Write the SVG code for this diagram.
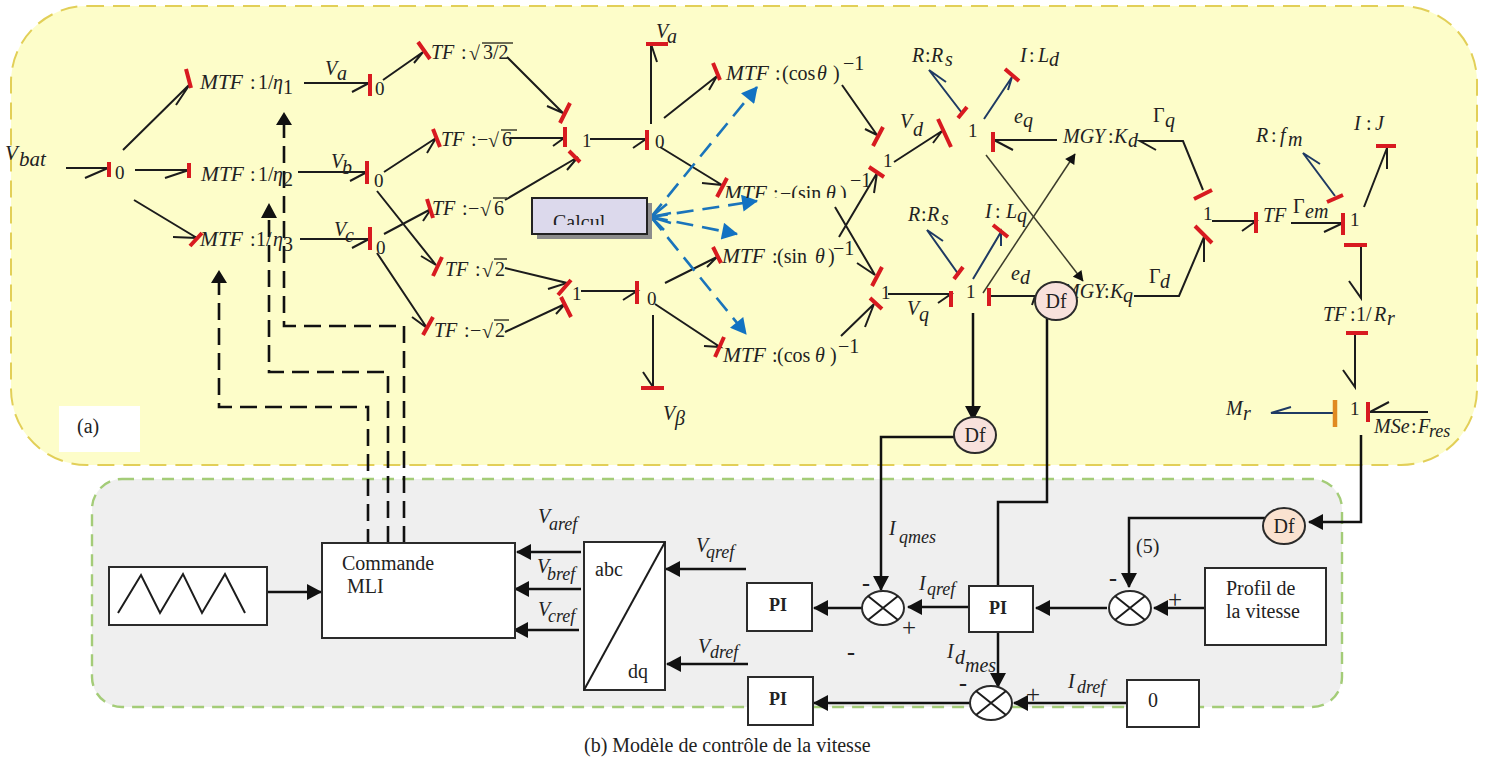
<svg xmlns="http://www.w3.org/2000/svg" width="1486" height="758" viewBox="0 0 1486 758">
<style>
text{font-family:"Liberation Serif","Times New Roman",serif;font-size:20px;fill:#222}
.i{font-style:italic}
.m{font-style:italic;font-size:21.5px}
.g{font-style:italic;font-size:21px}
.u{font-style:italic;font-size:18px}
.sm{font-size:19px}
.b{fill:none;stroke:#1c1c1c;stroke-width:2}
.n{fill:none;stroke:#1f3a63;stroke-width:2}
.r{fill:none;stroke:#d81a20;stroke-width:4}
.o{fill:none;stroke:#e08a22;stroke-width:4.5}
.th{fill:none;stroke:#3c3c2c;stroke-width:1.5}
.k{fill:none;stroke:#111;stroke-width:2.5}
.d{fill:none;stroke:#111;stroke-width:2.6;stroke-dasharray:17 8}
.bd{fill:none;stroke:#1a74bb;stroke-width:2.6;stroke-dasharray:17 9}
.box{fill:#fff;stroke:#2b2b2b;stroke-width:2}
.df{stroke:#2b2b2b;stroke-width:2}
.pi{font-weight:bold;font-size:18px;text-anchor:middle}
.minus{font-size:24px;font-weight:bold}
.plus{font-size:25px}
</style>
<defs>
<marker id="tri" markerUnits="userSpaceOnUse" viewBox="0 0 15 16" markerWidth="15" markerHeight="16" refX="14" refY="8" orient="auto"><path d="M0 0L15 8L0 16Z" fill="#111"/></marker>
<marker id="tris" markerUnits="userSpaceOnUse" viewBox="0 0 15 16" markerWidth="11" markerHeight="11" refX="14" refY="8" orient="auto"><path d="M0 0L15 8L0 16Z" fill="#111"/></marker>
<marker id="btri" markerUnits="userSpaceOnUse" viewBox="0 0 15 16" markerWidth="17" markerHeight="17" refX="14" refY="8" orient="auto"><path d="M0 0L15 8L0 16Z" fill="#1272c2"/></marker>
<clipPath id="clipMtf"><rect x="700" y="170" width="150" height="28"/></clipPath>
<clipPath id="clipCalc"><rect x="540" y="205" width="100" height="20"/></clipPath>
</defs>

<g id="panel-a"><rect x="11" y="6" width="1466" height="459" rx="76" ry="76" fill="#fdfdc9" stroke="#e2cf58" stroke-width="2" stroke-dasharray="17 9"/></g>
<g id="panel-b"><rect x="92" y="479" width="1250" height="228" rx="30" ry="30" fill="#efefef" stroke="#a4cc78" stroke-width="2.4" stroke-dasharray="12 8"/></g>

<g id="connectors">
<path class="b" d="M66 168H108L85 178M135 170H189L165 178M123 150L190 84L176 105M134 200L197 238L173 237"/>
<path class="b" d="M304 83H369L352 92M383 80L423 52L414 63M298 172H367L350 181M384 172L436 138L427 153M300 239H369L352 248M384 234L431 209L423 221M377 191L436 265L421 256M377 253L427 328L412 317"/>
<path class="b" d="M507 57L563 113L547 106M510 138H564L553 146M505 200L578 157L567 170M505 268L567 283L548 289M505 332L565 304L556 314M590 139H646L633 148M581 291H637L623 300"/>
<path class="b" d="M651 124V44L657 62M664 118L717 76L709 90M660 147L722 185L702 183M665 283L717 257L707 267M655 304L720 347L704 346M653 315V387L643 372"/>
<path class="b" d="M842 85L877 135L865 129M835 207L875 275L857 263M839 237L877 173L874 193M841 336L874 304L865 327M894 162L942 131L933 143M888 294H951L938 303"/>
<path class="n" d="M962 113L929 70L946 82M984 119L1012 77L1008 90M959 275L927 230L943 241M973 279L1001 232L1001 246"/>
<path class="th" d="M983 293L1075 154" marker-end="url(#tris)"/>
<path class="th" d="M986 155L1083 281" marker-end="url(#tris)"/>
<path class="b" d="M1057 140H994L1013 150M1203 190L1183 141H1140L1156 150M1134 296H1179L1204 237V262M989 296H1035L1032 305"/>
<path class="b" d="M1212 221H1256L1242 231M1291 223H1343L1324 232M1364 207L1387 148V169M1361 245V298L1349 281M1355 333V387L1343 370M1428 412H1370L1389 402"/>
<path class="n" d="M1335 196L1303 153L1320 164M1333 413H1271L1291 407"/>
<path class="r" d="M109 162V177M189 163V178M186 69L191 88M190 246L202 233M370 74V96M418 42L430 59M367 161V184M433 129L440 147M370 227V250M427 199L433 218M442 257L433 276M433 317L423 335"/>
<path class="r" d="M570 103L560 123M565 127V147M569 151L580 162M571 280L558 295M561 297L571 317M647 130V150M637 281V304M646 44H668M713 63L720 80M727 178L717 197M713 247L721 263M724 337L715 357M641 388H664"/>
<path class="r" d="M883 127L873 146M882 267L872 286M869 167L884 177M870 298L882 309M938 119L951 147M967 107L958 118M1005 69L1019 81M993 132V152M951 291V307M963 267L954 279M993 225L1008 237M989 288V306"/>
<path class="r" d="M1194 199L1212 190M1195 226L1212 243M1256 212V233M1343 213V235M1327 202L1343 195M1376 146H1396M1344 245H1367M1346 333H1368M1368 402V422"/>
<path class="o" d="M1335 400V427"/>

<path class="bd" d="M651 217L757 87" marker-end="url(#btri)"/>
<path class="bd" d="M651 217L757 201" marker-end="url(#btri)"/>
<path class="bd" d="M651 217L737 234" marker-end="url(#btri)"/>
<path class="bd" d="M651 217L746 334" marker-end="url(#btri)"/>
<path d="M651 217L667 204M651 217L671 213M651 217L671 223M651 217L664 230" fill="none" stroke="#1a74bb" stroke-width="2.6"/>

<path class="d" d="M404 543V326H284V125"/>
<path class="d" d="M388 543V372H269V218"/>
<path class="d" d="M368 546V407H219V283"/>
<path d="M284 112l8 13h-16ZM269 203l8 15h-16ZM219 270l8 13h-16Z" fill="#111"/>

<path class="k" d="M973 313V420" marker-end="url(#tri)"/>
<path class="k" d="M955 437H881V590" marker-end="url(#tri)"/>
<path class="k" d="M1047 318V502H998V585"/>
<path class="k" d="M1361 435V522H1309" marker-end="url(#tri)"/>
<path class="k" d="M1265 518H1129V587" marker-end="url(#tri)"/>
<path class="k" d="M969 607H908" marker-end="url(#tri)"/>
<path class="k" d="M863 608H814" marker-end="url(#tri)"/>
<path class="k" d="M1107 608H1036" marker-end="url(#tri)"/>
<path class="k" d="M1205 608H1154" marker-end="url(#tri)"/>
<path class="k" d="M998 632V687" marker-end="url(#tri)"/>
<path class="k" d="M1126 703H1014" marker-end="url(#tri)"/>
<path class="k" d="M971 703H814" marker-end="url(#tri)"/>
<path class="k" d="M746 569H666" marker-end="url(#tri)"/>
<path class="k" d="M748 664H667" marker-end="url(#tri)"/>
<path class="k" d="M581 552H517" marker-end="url(#tri)"/>
<path class="k" d="M581 589H515" marker-end="url(#tri)"/>
<path class="k" d="M579 630H514" marker-end="url(#tri)"/>
<path class="k" d="M265 592H321" marker-end="url(#tri)"/>
</g>

<g id="vbat"><text class="g" x="5" y="160">V</text><text class="g" x="19" y="166">bat</text></g>
<g id="j0-a"><text class="sm" x="115" y="179">0</text></g>
<g id="mtf-1"><text class="m" x="200" y="89">MTF</text><text x="250" y="89">:</text><text x="258" y="89">1/</text><text class="i" x="273" y="89">η</text><text x="283" y="94">1</text></g>
<g id="mtf-2"><text class="m" x="201" y="181">MTF</text><text x="250" y="181">:</text><text x="258" y="181">1/</text><text class="i" x="273" y="181">η</text><text x="283" y="186">2</text></g>
<g id="mtf-3"><text class="m" x="200" y="246">MTF</text><text x="250" y="246">:</text><text x="256" y="246">1/</text><text class="i" x="273" y="246">η</text><text x="283" y="251">3</text></g>

<g id="va-1"><text class="i" x="325" y="75">V</text><text class="i" x="337" y="80">a</text></g>
<g id="vb-1"><text class="i" x="331" y="168">V</text><text class="i" x="342" y="174">b</text></g>
<g id="vc-1"><text class="i" x="334" y="236">V</text><text class="i" x="345" y="242">c</text></g>
<g id="j0-b"><text class="sm" x="375" y="95">0</text></g>
<g id="j0-c"><text class="sm" x="374" y="187">0</text></g>
<g id="j0-d"><text class="sm" x="376" y="254">0</text></g>

<g id="tf-1"><text class="i" x="431" y="59">TF</text><text x="461" y="59">:</text><text x="469" y="60" font-size="23">√</text><text x="483" y="59">3/2</text><path class="th" d="M482 43H513"/></g>
<g id="tf-2"><text class="i" x="441" y="146">TF</text><text x="471" y="146">:</text><text x="477" y="146">−</text><text x="488" y="147" font-size="23">√</text><text x="502" y="146">6</text><path class="th" d="M501 130H517"/></g>
<g id="tf-3"><text class="i" x="432" y="215">TF</text><text x="462" y="215">:</text><text x="468" y="215">−</text><text x="480" y="216" font-size="23">√</text><text x="494" y="215">6</text><path class="th" d="M493 198H507"/></g>
<g id="tf-4"><text class="i" x="445" y="276">TF</text><text x="475" y="276">:</text><text x="482" y="277" font-size="23">√</text><text x="495" y="276">2</text><path class="th" d="M494 259H507"/></g>
<g id="tf-5"><text class="i" x="434" y="337">TF</text><text x="464" y="337">:</text><text x="470" y="337">−</text><text x="482" y="338" font-size="23">√</text><text x="495" y="337">2</text><path class="th" d="M494 320H509"/></g>

<g id="j1-a"><text class="sm" x="582" y="147">1</text></g>
<g id="j1-b"><text class="sm" x="572" y="300">1</text></g>
<g id="j0-e"><text class="sm" x="655" y="148">0</text></g>
<g id="j0-f"><text class="sm" x="647" y="305">0</text></g>
<g id="va-2"><text class="i" x="656" y="38">V</text><text class="i" x="667" y="43">a</text></g>
<g id="vbeta"><text class="i" x="663" y="420">V</text><text class="i" x="675" y="425">β</text></g>

<g id="mtf-cos-1"><text class="m" x="726" y="80">MTF</text><text x="775" y="80">:</text><text x="782" y="80">(cos</text><text class="i" x="817" y="80">θ</text><text x="833" y="80">)</text><text x="843" y="70">−1</text></g>
<g id="mtf-sin-1" clip-path="url(#clipMtf)"><text class="m" x="724" y="200">MTF</text><text x="773" y="200">:</text><text x="780" y="200">−(sin</text><text class="i" x="826" y="200">θ</text><text x="840" y="200">)</text></g>
<g id="mtf-sin-1-exp"><text x="850" y="187">−1</text></g>
<g id="mtf-sin-2"><text class="m" x="722" y="263">MTF</text><text x="772" y="263">:</text><text x="777" y="263">(sin</text><text class="i" x="815" y="263">θ</text><text x="828" y="263">)</text><text x="833" y="255">−1</text></g>
<g id="mtf-cos-2"><text class="m" x="723" y="362">MTF</text><text x="772" y="362">:</text><text x="777" y="362">(cos</text><text class="i" x="815" y="362">θ</text><text x="830" y="362">)</text><text x="838" y="353">−1</text></g>

<g id="calcul"><rect x="537" y="203" width="115" height="36" fill="#8c8c8c"/><rect x="532" y="198" width="115" height="36" fill="#dcd9ec" stroke="#222" stroke-width="2"/><g clip-path="url(#clipCalc)"><text x="553" y="229" font-size="19">Calcul</text></g></g>

<g id="j1-c"><text class="sm" x="883" y="167">1</text></g>
<g id="j1-d"><text class="sm" x="881" y="299">1</text></g>
<g id="j1-e"><text class="sm" x="968" y="137">1</text></g>
<g id="j1-f"><text class="sm" x="966" y="298">1</text></g>
<g id="vd"><text class="i" x="900" y="128">V</text><text class="i" x="913" y="136">d</text></g>
<g id="vq"><text class="i" x="907" y="315">V</text><text class="i" x="919" y="321">q</text></g>
<g id="r-rs-1"><text class="i" x="912" y="62">R</text><text x="925" y="62">:</text><text class="i" x="931" y="62">R</text><text class="i" x="945" y="66">s</text></g>
<g id="r-rs-2"><text class="i" x="908" y="221">R</text><text x="921" y="221">:</text><text class="i" x="927" y="221">R</text><text class="i" x="941" y="225">s</text></g>
<g id="i-ld"><text class="i" x="1020" y="62">I</text><text x="1029" y="62">:</text><text class="i" x="1038" y="62">L</text><text class="i" x="1049" y="66">d</text></g>
<g id="i-lq"><text class="i" x="985" y="218">I</text><text x="995" y="218">:</text><text class="i" x="1006" y="218">L</text><text class="i" x="1017" y="222">q</text></g>
<g id="eq"><text class="i" x="1014" y="123">e</text><text class="i" x="1023" y="127">q</text></g>
<g id="ed"><text class="i" x="1011" y="280">e</text><text class="i" x="1020" y="284">d</text></g>
<g id="mgy-kd"><text class="i" x="1063" y="143">MGY</text><text x="1108" y="143">:</text><text class="i" x="1114" y="143">K</text><text class="i" x="1128" y="147">d</text></g>
<g id="gamma-q"><text x="1153" y="122">Γ</text><text class="i" x="1165" y="127">q</text></g>
<g id="gamma-d"><text x="1149" y="283">Γ</text><text class="i" x="1160" y="288">d</text></g>
<g id="mgy-kq"><text class="i" x="1063" y="298">MGY</text><text x="1104" y="298">:</text><text class="i" x="1110" y="298">K</text><text class="i" x="1123" y="302">q</text></g>
<g id="df-1"><ellipse class="df" cx="1056" cy="301" rx="21" ry="19" fill="#f8e1dc"/><text x="1056" y="308" text-anchor="middle" font-size="20">Df</text></g>
<g id="df-2"><ellipse class="df" cx="975" cy="435" rx="21" ry="18" fill="#f8e1dc"/><text x="975" y="442" text-anchor="middle" font-size="20">Df</text></g>
<g id="df-3"><ellipse class="df" cx="1284" cy="526" rx="21" ry="18" fill="#fae2d0"/><text x="1284" y="533" text-anchor="middle" font-size="20">Df</text></g>

<g id="j1-g"><text class="sm" x="1203" y="220">1</text></g>
<g id="tf-6"><text class="i" x="1263" y="222">TF</text></g>
<g id="gamma-em"><text x="1293" y="213">Γ</text><text class="i" x="1305" y="218" font-size="16">em</text></g>
<g id="j1-h"><text class="sm" x="1350" y="226">1</text></g>
<g id="r-fm"><text class="i" x="1256" y="142">R</text><text x="1271" y="142">:</text><text class="i" x="1280" y="142">f</text><text class="i" x="1288" y="146">m</text></g>
<g id="i-j"><text class="i" x="1354" y="130">I</text><text x="1366" y="130">:</text><text class="i" x="1375" y="130">J</text></g>
<g id="tf-rr"><text class="i" x="1323" y="321">TF</text><text x="1350" y="321">:</text><text x="1356" y="321">1</text><text x="1366" y="321">/</text><text class="i" x="1374" y="321">R</text><text class="i" x="1387" y="325">r</text></g>
<g id="j1-i"><text class="sm" x="1350" y="415">1</text></g>
<g id="mr"><text class="i" x="1226" y="415">M</text><text class="i" x="1243" y="420">r</text></g>
<g id="mse"><text class="i" x="1374" y="433">MSe</text><text x="1411" y="433">:</text><text class="i" x="1418" y="433">F</text><text class="u" x="1429" y="437">res</text></g>

<g id="label-a"><rect x="59" y="406" width="81" height="46" fill="#fff"/><text x="77" y="433" font-size="19">(a)</text></g>

<g id="triangle-gen"><rect class="box" x="109" y="567" width="158" height="58"/><path class="b" d="M118 613L141 575L160 613L183 574L202 613L225 574L245 613"/></g>
<g id="commande"><rect class="box" x="322" y="543" width="193" height="95"/><text x="342" y="570" font-size="20.6">Commande</text><text x="347" y="593" font-size="20.6">MLI</text></g>
<g id="abc-dq"><rect class="box" x="584" y="542" width="81" height="148"/><path class="b" d="M665 542L584 690"/><text x="595" y="576">abc</text><text x="628" y="678">dq</text></g>
<g id="pi-q"><rect class="box" x="747" y="583" width="65" height="48"/><text class="pi" x="778" y="611">PI</text></g>
<g id="pi-d"><rect class="box" x="748" y="677" width="65" height="48"/><text class="pi" x="778" y="705">PI</text></g>
<g id="pi-mid"><rect class="box" x="969" y="586" width="64" height="46"/><text class="pi" x="998" y="614">PI</text></g>
<g id="profil"><rect class="box" x="1205" y="568" width="121" height="77"/><text x="1226" y="595">Profil de</text><text x="1226" y="618" font-size="20.5">la vitesse</text></g>
<g id="zero"><rect class="box" x="1127" y="680" width="72" height="47"/><text x="1148" y="707" font-size="17">0</text></g>

<g id="sum-q"><ellipse class="box" cx="883" cy="608" rx="21" ry="17"/><path class="b" d="M868 596L898 620M898 596L868 620"/></g>
<g id="sum-speed"><ellipse class="box" cx="1130" cy="608" rx="21" ry="17"/><path class="b" d="M1115 596L1145 620M1145 596L1115 620"/></g>
<g id="sum-d"><ellipse class="box" cx="991" cy="703" rx="21" ry="17"/><path class="b" d="M976 691L1006 715M1006 691L976 715"/></g>

<g id="vaef"><text class="i" x="538" y="523">V</text><text class="u" x="549" y="530">aref</text></g>
<g id="vbref"><text class="i" x="537" y="573">V</text><text class="u" x="547" y="580">bref</text></g>
<g id="vcref"><text class="i" x="538" y="616">V</text><text class="u" x="548" y="622">cref</text></g>
<g id="vqref"><text class="i" x="696" y="552">V</text><text class="u" x="706" y="558">qref</text></g>
<g id="vdref"><text class="i" x="698" y="653">V</text><text class="u" x="710" y="658">dref</text></g>
<g id="iqmes"><text class="i" x="889" y="535">I</text><text class="u" x="899" y="543">qmes</text></g>
<g id="iqref"><text class="i" x="919" y="590">I</text><text class="u" x="927" y="595">qref</text></g>
<g id="idmes"><text class="i" x="947" y="658">I</text><text class="i" x="955" y="664">d</text><text class="i" x="965" y="672" font-size="17">mes</text></g>
<g id="idref"><text class="i" x="1068" y="688">I</text><text class="u" x="1077" y="693">dref</text></g>
<g id="eq5"><text x="1136" y="553" fill="#444">(5)</text></g>
<g id="signs">
<text class="minus" x="862" y="591">-</text><text class="plus" x="902" y="636">+</text><text class="minus" x="847" y="660">-</text>
<text class="minus" x="1109" y="586">-</text><text class="plus" x="1168" y="608">+</text><text class="minus" x="959" y="691">-</text><text class="plus" x="1026" y="703">+</text>
</g>
<g id="caption"><text x="584" y="752" font-size="20.1">(b) Modèle de contrôle de la vitesse</text></g>
</svg>
